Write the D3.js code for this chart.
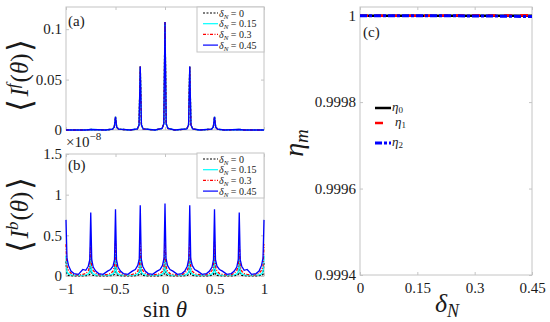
<!DOCTYPE html>
<html>
<head>
<meta charset="utf-8">
<script src="https://cdn.jsdelivr.net/npm/d3@7"></script>
<style>
  body { margin: 0; background: #fff; }
  svg { display: block; }
  text { font-family: "Liberation Serif", "Times New Roman", serif; fill: #1a1a1a; }
  .tick text { font-size: 15px; }
</style>
</head>
<body>
<svg id="fig" width="550" height="322"></svg>
<script>
// ---- data ----
var legendLabels = ['0', '0.15', '0.3', '0.45']
var seriesColors = ['#000000', '#00ffff', '#ff0000', '#0000ff']

// panel (a): forward intensity (all four cases lie on top of each other)
var sinA = [-1, -0.8, -0.75, -0.6, -0.53, -0.512, -0.5, -0.488, -0.47, -0.35, -0.28, -0.262, -0.25, -0.238, -0.22,
            -0.1, -0.03, -0.012, 0, 0.012, 0.03, 0.1, 0.22, 0.238, 0.25, 0.262, 0.28, 0.35, 0.47, 0.488, 0.5,
            0.512, 0.53, 0.6, 0.75, 0.8, 1]
var forwardI = [0, 0, 0.0005, 0, 0.0008, 0.003, 0.013, 0.003, 0.0008, 0, 0.001, 0.005, 0.063, 0.005, 0.001,
                0, 0.0015, 0.006, 0.107, 0.006, 0.0015, 0, 0.001, 0.005, 0.063, 0.005, 0.001, 0, 0.0008, 0.003, 0.013,
                0.003, 0.0008, 0, 0.0005, 0, 0]
var forwardSeries = [forwardI, forwardI, forwardI, forwardI]

// panel (b): backward intensity, units of 1e-8
var sinB = [-1, -0.99, -0.975, -0.95, -0.92, -0.875, -0.83, -0.8, -0.775, -0.76,
            -0.75, -0.74, -0.725, -0.7, -0.67, -0.625, -0.58, -0.55, -0.525, -0.51,
            -0.5, -0.49, -0.475, -0.45, -0.42, -0.375, -0.33, -0.3, -0.275, -0.26,
            -0.25, -0.24, -0.225, -0.2, -0.17, -0.125, -0.08, -0.05, -0.025, -0.01,
            0, 0.01, 0.025, 0.05, 0.08, 0.125, 0.17, 0.2, 0.225, 0.24,
            0.25, 0.26, 0.275, 0.3, 0.33, 0.375, 0.42, 0.45, 0.475, 0.49,
            0.5, 0.51, 0.525, 0.55, 0.58, 0.625, 0.67, 0.7, 0.725, 0.74,
            0.75, 0.76, 0.775, 0.8, 0.83, 0.875, 0.92, 0.95, 0.975, 0.99,
            1]
var backI0 = [0.18, 0.02, 0.008, 0.004, 0.002, 0.002, 0.002, 0.004, 0.008, 0.02,
              0.2, 0.02, 0.008, 0.004, 0.002, 0.002, 0.002, 0.004, 0.008, 0.02,
              0.2, 0.02, 0.008, 0.004, 0.002, 0.002, 0.002, 0.004, 0.008, 0.02,
              0.21, 0.02, 0.008, 0.004, 0.002, 0.002, 0.002, 0.004, 0.008, 0.02,
              0.21, 0.02, 0.008, 0.004, 0.002, 0.002, 0.002, 0.004, 0.008, 0.02,
              0.21, 0.02, 0.008, 0.004, 0.002, 0.002, 0.002, 0.004, 0.008, 0.02,
              0.2, 0.02, 0.008, 0.004, 0.002, 0.002, 0.002, 0.004, 0.008, 0.02,
              0.2, 0.02, 0.008, 0.004, 0.002, 0.002, 0.002, 0.004, 0.008, 0.02,
              0.18]
var backI15 = [0.25, 0.05, 0.025, 0.015, 0.01, 0.008, 0.01, 0.015, 0.025, 0.05,
               0.27, 0.05, 0.025, 0.015, 0.01, 0.008, 0.01, 0.015, 0.025, 0.05,
               0.27, 0.05, 0.025, 0.015, 0.01, 0.008, 0.01, 0.015, 0.025, 0.05,
               0.28, 0.05, 0.025, 0.015, 0.01, 0.008, 0.01, 0.015, 0.025, 0.05,
               0.28, 0.05, 0.025, 0.015, 0.01, 0.008, 0.01, 0.015, 0.025, 0.05,
               0.28, 0.05, 0.025, 0.015, 0.01, 0.008, 0.01, 0.015, 0.025, 0.05,
               0.27, 0.05, 0.025, 0.015, 0.01, 0.008, 0.01, 0.015, 0.025, 0.05,
               0.27, 0.05, 0.025, 0.015, 0.01, 0.008, 0.01, 0.015, 0.025, 0.05,
               0.25]
var backI30 = [0.39, 0.12, 0.07, 0.035, 0.015, 0.01, 0.02, 0.03, 0.06, 0.12,
               0.41, 0.12, 0.07, 0.035, 0.015, 0.01, 0.02, 0.03, 0.06, 0.12,
               0.43, 0.12, 0.07, 0.035, 0.015, 0.01, 0.02, 0.03, 0.06, 0.12,
               0.45, 0.12, 0.07, 0.035, 0.015, 0.01, 0.02, 0.03, 0.06, 0.12,
               0.46, 0.12, 0.06, 0.03, 0.02, 0.01, 0.015, 0.035, 0.07, 0.12,
               0.45, 0.12, 0.06, 0.03, 0.02, 0.01, 0.015, 0.035, 0.07, 0.12,
               0.43, 0.12, 0.06, 0.03, 0.02, 0.01, 0.015, 0.035, 0.07, 0.12,
               0.41, 0.12, 0.06, 0.03, 0.02, 0.01, 0.015, 0.035, 0.07, 0.12,
               0.39]
var backI45 = [0.69, 0.22, 0.13, 0.06, 0.03, 0.02, 0.08, 0.07, 0.12, 0.2,
               0.78, 0.2, 0.11, 0.06, 0.03, 0.02, 0.06, 0.08, 0.12, 0.2,
               0.82, 0.2, 0.11, 0.06, 0.03, 0.02, 0.06, 0.08, 0.13, 0.21,
               0.87, 0.21, 0.12, 0.06, 0.03, 0.02, 0.06, 0.08, 0.13, 0.22,
               0.89, 0.22, 0.13, 0.08, 0.06, 0.02, 0.03, 0.06, 0.12, 0.21,
               0.87, 0.21, 0.13, 0.08, 0.06, 0.02, 0.03, 0.06, 0.11, 0.2,
               0.82, 0.2, 0.12, 0.08, 0.06, 0.02, 0.03, 0.06, 0.11, 0.2,
               0.78, 0.2, 0.12, 0.07, 0.08, 0.02, 0.03, 0.06, 0.13, 0.22,
               0.69]
var backSeries = [backI0, backI15, backI30, backI45]

// panel (c): efficiencies vs disorder
var deltaN = [0, 0.05, 0.1, 0.15, 0.2, 0.25, 0.3, 0.35, 0.4, 0.45]
var eta0 = [1, 1, 1, 1, 1, 1, 1, 0.9999999, 0.9999998, 0.9999997]
var eta1 = [1, 1, 1, 1, 1, 1.0000001, 1.0000002, 1.0000003, 1.0000005, 1.0000008]
var eta2 = [1, 1, 0.9999999, 0.9999998, 0.9999997, 0.9999995, 0.9999993, 0.999999, 0.9999985, 0.999998]
var etaNames = ['0', '1', '2']

var ticksSin = [-1, -0.5, 0, 0.5, 1]
var ticksA = [0, 0.05, 0.1]
var ticksB = [0, 0.5, 1, 1.5]
var ticksCx = [0, 0.15, 0.3, 0.45]
var ticksCy = [0.9994, 0.9996, 0.9998, 1]

// ---- drawing ----
var svg = d3.select('#fig')
svg.append('rect').attr('width', 550).attr('height', 322).attr('fill', '#fff')
var frameColor = '#c4c4c4'
var minus = (s) => s.replace('-', '\u2212')

var box = (x0, y0, x1, y1) => {
  svg.append('rect').attr('x', x0).attr('y', y0).attr('width', x1 - x0).attr('height', y1 - y0)
    .attr('fill', 'none').attr('stroke', frameColor).attr('stroke-width', 1)
}

var drawAxes = (xs, ys, xt, yt, xfmt, yfmt, showX) => {
  var [x0, x1] = xs.range(), [y1, y0] = ys.range()
  var style = (g) => {
    g.select('.domain').remove()
    g.selectAll('.tick line').attr('stroke', frameColor)
  }
  svg.append('g').attr('transform', 'translate(0,' + y1 + ')')
    .call(d3.axisBottom(xs).tickValues(xt).tickSize(-3).tickPadding(7).tickFormat(showX ? xfmt : () => ''))
    .call(style)
  svg.append('g').attr('transform', 'translate(0,' + y0 + ')')
    .call(d3.axisTop(xs).tickValues(xt).tickSize(-3).tickFormat(() => '')).call(style)
  svg.append('g').attr('transform', 'translate(' + x0 + ',0)')
    .call(d3.axisLeft(ys).tickValues(yt).tickSize(-3).tickPadding(4).tickFormat(yfmt)).call(style)
  svg.append('g').attr('transform', 'translate(' + x1 + ',0)')
    .call(d3.axisRight(ys).tickValues(yt).tickSize(-3).tickFormat(() => '')).call(style)
  box(x0, y0, x1, y1)
}

var dashes = ['2,1.5', null, '3,1.5,1,1.5', null]

var drawLegend = (x, y) => {
  svg.append('rect').attr('x', x).attr('y', y).attr('width', 67).attr('height', 45)
    .attr('fill', '#fff').attr('stroke', frameColor)
  legendLabels.forEach((lab, i) => {
    var yy = y + 6 + i * 10.7
    svg.append('line').attr('x1', x + 6).attr('x2', x + 21).attr('y1', yy).attr('y2', yy)
      .attr('stroke', seriesColors[i]).attr('stroke-width', 1.2).attr('stroke-dasharray', dashes[i])
    var t = svg.append('text').attr('x', x + 22).attr('y', yy + 3.5).attr('font-size', 10)
    t.append('tspan').attr('font-style', 'italic').text('\u03b4')
    t.append('tspan').attr('font-style', 'italic').attr('font-size', 7).attr('dy', 2).text('N')
    t.append('tspan').attr('dy', -2).text(' = ' + lab)
  })
}

var panelLabel = (x, y, s) => svg.append('text').attr('x', x).attr('y', y).attr('font-size', 15).text(s)

// angle bracket label, rotated
var braLabel = (cx, cy, sup) => {
  var t = svg.append('text').attr('transform', 'translate(' + cx + ',' + cy + ') rotate(-90)')
    .attr('text-anchor', 'middle').attr('font-size', 25)
  t.append('tspan').attr('font-size', 33).attr('dy', 3).text('\u27e8')
  t.append('tspan').attr('font-style', 'italic').attr('dx', 2).attr('dy', -3).text('I')
  t.append('tspan').attr('font-style', 'italic').attr('font-size', 17).attr('dy', -10).text(sup)
  t.append('tspan').attr('dy', 10).attr('dx', 1).text('(')
  t.append('tspan').attr('font-style', 'italic').text('\u03b8')
  t.append('tspan').text(')')
  t.append('tspan').attr('font-size', 33).attr('dx', 2).attr('dy', 3).text('\u27e9')
}

// panel (a)
var xA = d3.scaleLinear().domain([-1, 1]).range([66, 264])
var yA = d3.scaleLinear().domain([0, 0.122]).range([130, 7])
drawAxes(xA, yA, ticksSin, ticksA, null, (d) => d3.format('~g')(d), false)
var lineA = d3.line().x((d, i) => xA(sinA[i])).y((d) => yA(d))
forwardSeries.forEach((s, i) => {
  svg.append('path').datum(s).attr('d', lineA).attr('fill', 'none')
    .attr('stroke', seriesColors[i]).attr('stroke-width', 1.3).attr('stroke-dasharray', dashes[i])
})
drawLegend(197, 7)
panelLabel(68, 26, '(a)')
braLabel(28, 75, 'f')

// panel (b)
var xB = d3.scaleLinear().domain([-1, 1]).range([66, 264])
var yB = d3.scaleLinear().domain([0, 1.5]).range([276, 154])
drawAxes(xB, yB, ticksSin, ticksB, (d) => minus(d3.format('~g')(d)), (d) => d3.format('~g')(d), true)
var lineB = d3.line().x((d, i) => xB(sinB[i])).y((d) => yB(d))
backSeries.forEach((s, i) => {
  svg.append('path').datum(s).attr('d', lineB).attr('fill', 'none')
    .attr('stroke', seriesColors[i]).attr('stroke-width', 1.3).attr('stroke-dasharray', dashes[i])
})
drawLegend(197, 153)
panelLabel(68, 170, '(b)')
braLabel(28, 215, 'b')
var exp = svg.append('text').attr('x', 66).attr('y', 147).attr('font-size', 15)
exp.append('tspan').text('\u00d710')
exp.append('tspan').attr('font-size', 11).attr('dy', -7).text('\u22128')

var sinLabel = svg.append('text').attr('x', 165).attr('y', 317).attr('text-anchor', 'middle')
  .attr('font-size', 23)
sinLabel.append('tspan').text('sin ')
sinLabel.append('tspan').attr('font-style', 'italic').text('\u03b8')

// panel (c)
var xC = d3.scaleLinear().domain([0, 0.45]).range([360, 532])
var yC = d3.scaleLinear().domain([0.9994, 1.00002]).range([275, 7])
drawAxes(xC, yC, ticksCx, ticksCy, (d) => d3.format('~g')(d), (d) => d3.format('~g')(d), true)
var etaSeries = [eta0, eta1, eta2]
var etaColors = ['#000000', '#ff0000', '#0000ff']
var etaDash = [null, '8,8', '7,2,3,2']
var etaWidth = [2.5, 2.5, 3]
var lineC = d3.line().x((d, i) => xC(deltaN[i])).y((d) => yC(d))
etaSeries.forEach((s, i) => {
  svg.append('path').datum(s).attr('d', lineC).attr('fill', 'none')
    .attr('stroke', etaColors[i]).attr('stroke-width', etaWidth[i]).attr('stroke-dasharray', etaDash[i])
})
panelLabel(363, 37, '(c)')
var legYs = [108, 123, 143]
etaNames.forEach((n, i) => {
  svg.append('line').attr('x1', 375).attr('x2', 391).attr('y1', legYs[i]).attr('y2', legYs[i])
    .attr('stroke', etaColors[i]).attr('stroke-width', etaWidth[i]).attr('stroke-dasharray', etaDash[i])
  var t = svg.append('text').attr('x', i == 1 ? 395 : 392).attr('y', legYs[i] + 3).attr('font-size', 13)
  t.append('tspan').attr('font-style', 'italic').text('\u03b7')
  t.append('tspan').attr('font-size', 9).attr('dy', 2).text(n)
})
var etaLabel = svg.append('text').attr('transform', 'translate(303,143) rotate(-90)')
  .attr('text-anchor', 'middle').attr('font-size', 28)
etaLabel.append('tspan').attr('font-style', 'italic').text('\u03b7')
etaLabel.append('tspan').attr('font-style', 'italic').attr('font-size', 19).attr('dy', 5).text('m')

var dLabel = svg.append('text').attr('x', 447).attr('y', 312).attr('text-anchor', 'middle')
  .attr('font-size', 26)
dLabel.append('tspan').attr('font-style', 'italic').text('\u03b4')
dLabel.append('tspan').attr('font-style', 'italic').attr('font-size', 18).attr('dy', 5).text('N')
</script>
</body>
</html>
